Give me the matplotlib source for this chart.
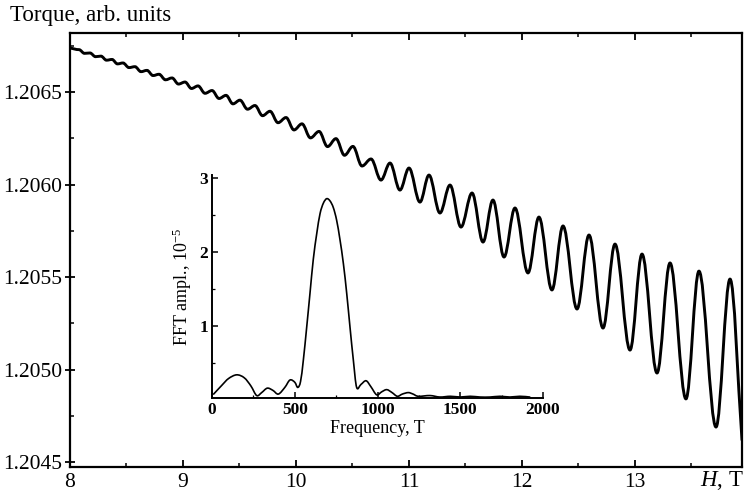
import numpy as np
import matplotlib
matplotlib.use("Agg")
import matplotlib.pyplot as plt
from matplotlib.path import Path
from matplotlib.patches import PathPatch
from matplotlib.ticker import MultipleLocator, FormatStrFormatter

plt.rcParams['font.family'] = ['Liberation Serif', 'DejaVu Serif']
plt.rcParams['mathtext.fontset'] = 'custom'
plt.rcParams['mathtext.rm'] = 'Liberation Serif'
plt.rcParams['mathtext.it'] = 'Liberation Serif:italic'
plt.rcParams['mathtext.bf'] = 'Liberation Serif:bold'

# ---- main curve: torque vs field, read at successive maxima/minima ----
field_T = [8.000, 8.080, 8.128, 8.177, 8.226, 8.274, 8.323, 8.372, 8.420, 8.469,
           8.522, 8.575, 8.628, 8.681, 8.735, 8.788, 8.845, 8.903, 8.960, 9.018,
           9.075, 9.133, 9.195, 9.257, 9.319, 9.381, 9.442, 9.504, 9.571, 9.637,
           9.704, 9.770, 9.841, 9.912, 9.982, 10.053, 10.128, 10.204, 10.279, 10.354,
           10.429, 10.504, 10.584, 10.664, 10.752, 10.832, 10.920, 11.000, 11.097, 11.177,
           11.274, 11.363, 11.460, 11.558, 11.655, 11.743, 11.841, 11.938, 12.053, 12.150,
           12.265, 12.363, 12.487, 12.593, 12.717, 12.823, 12.956, 13.062, 13.195, 13.310,
           13.451, 13.566, 13.717, 13.841, 13.947]
torque = [1.206738, 1.206729, 1.206709, 1.206711, 1.206691, 1.206694, 1.206672, 1.206676, 1.206652, 1.206657,
          1.206632, 1.206637, 1.206610, 1.206617, 1.206589, 1.206596, 1.206566, 1.206576, 1.206543, 1.206554,
          1.206519, 1.206533, 1.206493, 1.206508, 1.206465, 1.206482, 1.206436, 1.206456, 1.206407, 1.206427,
          1.206372, 1.206396, 1.206334, 1.206362, 1.206295, 1.206328, 1.206252, 1.206287, 1.206205, 1.206248,
          1.206158, 1.206206, 1.206100, 1.206138, 1.206024, 1.206116, 1.205970, 1.206089, 1.205905, 1.206051,
          1.205846, 1.205997, 1.205770, 1.205954, 1.205689, 1.205916, 1.205608, 1.205873, 1.205522, 1.205824,
          1.205430, 1.205776, 1.205327, 1.205727, 1.205224, 1.205678, 1.205105, 1.205624, 1.204981, 1.205576,
          1.204841, 1.205532, 1.204689, 1.205489, 1.204619]

# ---- inset: FFT spectrum ----
fft_freq = [10, 60, 100, 149, 195, 235, 270, 300, 334, 368, 401, 440, 471, 500, 518,
            535, 552, 572, 592, 612, 633, 653, 673, 693, 713, 733, 753, 773, 794, 814,
            834, 854, 874, 900, 931, 960, 995, 1025, 1056, 1088, 1120, 1150, 1186, 1215,
            1247, 1317, 1377, 1440, 1500, 1560, 1620, 1680, 1740, 1800, 1860, 1920]
fft_amp = [0.08, 0.20, 0.29, 0.34, 0.30, 0.19, 0.06, 0.10, 0.16, 0.13, 0.08, 0.17, 0.27, 0.24, 0.17,
           0.25, 0.54, 0.98, 1.44, 1.90, 2.25, 2.52, 2.66, 2.72, 2.69, 2.60, 2.43, 2.17, 1.84, 1.44,
           0.98, 0.54, 0.17, 0.21, 0.26, 0.18, 0.07, 0.11, 0.14, 0.10, 0.05, 0.08, 0.10, 0.08,
           0.05, 0.06, 0.04, 0.05, 0.04, 0.05, 0.04, 0.04, 0.05, 0.04, 0.05, 0.04]

x_ticks = [8, 9, 10, 11, 12, 13]
y_ticks = [1.2045, 1.2050, 1.2055, 1.2060, 1.2065]
inset_x_ticks = [0, 500, 1000, 1500, 2000]
inset_y_ticks = [1, 2, 3]


def extrema_path(xs, ys, k=0.36):
    """Smooth curve through successive extrema (horizontal tangents there)."""
    n = len(xs)
    verts = [(xs[0], ys[0])]
    codes = [Path.MOVETO]
    for i in range(n - 1):
        x0, y0, x1, y1 = xs[i], ys[i], xs[i + 1], ys[i + 1]
        dx, dy = x1 - x0, y1 - y0
        c1 = (x0 + k * dx, y0) if i > 0 else (x0 + k * dx, y0 + k * dy)
        c2 = (x1 - k * dx, y1) if i < n - 2 else (x1 - k * dx, y1 - k * dy)
        verts += [c1, c2, (x1, y1)]
        codes += [Path.CURVE4] * 3
    return Path(verts, codes)


def smooth_path(xs, ys):
    pts = np.column_stack([xs, ys]).astype(float)
    n = len(pts)
    verts = [tuple(pts[0])]
    codes = [Path.MOVETO]
    for i in range(n - 1):
        p0 = pts[i - 1] if i > 0 else pts[i]
        p1, p2 = pts[i], pts[i + 1]
        p3 = pts[i + 2] if i + 2 < n else pts[i + 1]
        c1 = p1 + (p2 - p0) / 6.0
        c2 = p2 - (p3 - p1) / 6.0
        verts += [tuple(c1), tuple(c2), tuple(p2)]
        codes += [Path.CURVE4] * 3
    return Path(verts, codes)


fig = plt.figure(figsize=(7.45, 4.95), dpi=100)
W, H = 745.0, 495.0

ax = fig.add_axes([70 / W, 1 - 467 / H, 672 / W, 434 / H])
ax.add_patch(PathPatch(extrema_path(field_T, torque), fill=False, edgecolor='black',
                       lw=2.1, capstyle='round', joinstyle='round'))
ax.set_xlim(8.0, 13.947)
ax.set_ylim(1.204473, 1.206819)
ax.set_xticks(x_ticks)
ax.set_yticks(y_ticks)
ax.xaxis.set_minor_locator(MultipleLocator(0.5))
ax.yaxis.set_minor_locator(MultipleLocator(0.00025))
ax.yaxis.set_major_formatter(FormatStrFormatter('%.4f'))
for s in ax.spines.values():
    s.set_linewidth(1.6)
ax.tick_params(axis='x', which='major', direction='in', length=5, width=1.3,
               top=True, labelsize=15.5, pad=4)
ax.tick_params(axis='x', which='minor', direction='in', length=3, width=1.1, top=True)
ax.tick_params(axis='y', which='major', direction='inout', length=7, width=1.3,
               labelsize=15.5, pad=2)
ax.tick_params(axis='y', which='minor', direction='in', length=3, width=1.1)

fig.text(10 / W, 1 - 16 / H, "Torque, arb. units", fontsize=16.5, ha='left', va='center')
fig.text(744 / W, 1 - 481 / H, "$H$, T", fontsize=16.5, ha='right', va='center')

# inset
ax2 = fig.add_axes([212 / W, 1 - 398 / H, 331 / W, 223 / H])
ax2.patch.set_visible(False)
ax2.add_patch(PathPatch(smooth_path(fft_freq, fft_amp), fill=False, edgecolor='black',
                        lw=1.2, capstyle='round', joinstyle='round'))
ax2.set_xlim(0, 2000)
ax2.set_ylim(0.027, 3.04)
ax2.set_xticks(inset_x_ticks)
ax2.set_yticks(inset_y_ticks)
ax2.xaxis.set_minor_locator(MultipleLocator(250))
ax2.yaxis.set_minor_locator(MultipleLocator(0.5))
ax2.spines['top'].set_visible(False)
ax2.spines['right'].set_visible(False)
ax2.spines['left'].set_linewidth(1.4)
ax2.spines['bottom'].set_linewidth(1.4)
ax2.tick_params(which='major', direction='in', length=4, width=1.1, labelsize=12.5, pad=3)
ax2.tick_params(which='minor', direction='in', length=2.5, width=0.9)
for lab in ax2.get_xticklabels() + ax2.get_yticklabels():
    lab.set_fontweight('bold')
ax2.set_xlabel("Frequency, T", fontsize=13, labelpad=1)
ax2.set_ylabel("FFT ampl., $10^{-5}$", fontsize=13, labelpad=4)

fig.savefig("out.png", dpi=100)
